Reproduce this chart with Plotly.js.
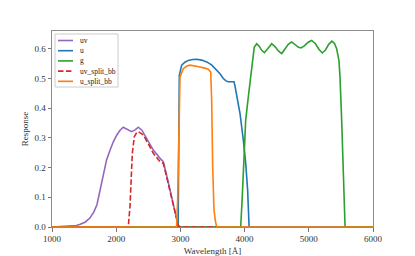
<!DOCTYPE html>
<html>
<head>
<meta charset="utf-8">
<script src="https://cdn.plot.ly/plotly-3.0.1.min.js"></script>
<style>
html,body{margin:0;padding:0;background:#fff;}
#chart{width:415px;height:256px;}
</style>
</head>
<body>
<div id="chart"></div>
<script>
// ---- data ----
const seriesNames = ["uv", "u", "g", "uv_split_bb", "u_split_bb"];

const uvWl   = [1000, 1280, 1380, 1440, 1520, 1590, 1650, 1700, 1775, 1850, 1905, 1955, 2010, 2060, 2110, 2170, 2240, 2300, 2344, 2400, 2480, 2578, 2680, 2734, 2790, 2838, 2880, 2916, 2967, 3000, 4500];
const uvResp = [0, 0.002, 0.005, 0.009, 0.017, 0.03, 0.05, 0.075, 0.148, 0.226, 0.259, 0.287, 0.31, 0.326, 0.336, 0.330, 0.321, 0.328, 0.336, 0.326, 0.295, 0.259, 0.232, 0.22, 0.17, 0.125, 0.085, 0.047, 0.004, 0, 0];

const uWl   = [1000, 2965, 2983, 3020, 3070, 3123, 3190, 3254, 3330, 3410, 3490, 3565, 3620, 3668, 3710, 3746, 3800, 3835, 3850, 3928, 3980, 4017, 4047, 4070, 6000];
const uResp = [0, 0, 0.511, 0.545, 0.555, 0.561, 0.564, 0.565, 0.562, 0.556, 0.545, 0.528, 0.515, 0.50, 0.492, 0.489, 0.488, 0.489, 0.475, 0.383, 0.293, 0.215, 0.125, 0, 0];

const gWl   = [1000, 3939, 3964, 3991, 4017, 4058, 4110, 4150, 4188, 4230, 4266, 4307, 4360, 4422, 4480, 4530, 4578, 4630, 4680, 4733, 4790, 4840, 4879, 4930, 4990, 5045, 5100, 5160, 5210, 5260, 5310, 5360, 5400, 5434, 5470, 5486, 5512, 5540, 5565, 6000];
const gResp = [0, 0, 0.103, 0.27, 0.36, 0.438, 0.539, 0.605, 0.617, 0.608, 0.595, 0.587, 0.600, 0.617, 0.606, 0.592, 0.584, 0.598, 0.615, 0.623, 0.614, 0.605, 0.603, 0.610, 0.622, 0.628, 0.618, 0.598, 0.586, 0.596, 0.615, 0.626, 0.618, 0.600, 0.56, 0.505, 0.36, 0.17, 0, 0];

const uvSplitWl   = [1000, 2188, 2215, 2251, 2282, 2320, 2344, 2422, 2500, 2578, 2682, 2734, 2790, 2838, 2880, 2916, 2967, 3000, 3600];
const uvSplitResp = [0, 0, 0.069, 0.248, 0.304, 0.318, 0.321, 0.31, 0.28, 0.248, 0.22, 0.214, 0.165, 0.12, 0.082, 0.045, 0.004, 0, 0];

const uSplitWl   = [1000, 2940, 2957, 2978, 2994, 3045, 3100, 3150, 3230, 3305, 3380, 3435, 3472, 3487, 3503, 3523, 3545, 3565, 6000];
const uSplitResp = [0, 0, 0.09, 0.371, 0.505, 0.533, 0.542, 0.545, 0.543, 0.539, 0.535, 0.531, 0.522, 0.427, 0.203, 0.058, 0.02, 0, 0];

const xTicks = [1000, 2000, 3000, 4000, 5000, 6000];
const yTicks = [0.0, 0.1, 0.2, 0.3, 0.4, 0.5, 0.6];

// ---- styles ----
const colors = ["#9467bd", "#1f77b4", "#2ca02c", "#d62728", "#ff7f0e"];
const dashes = ["solid", "solid", "solid", "5.5px,2.4px", "solid"];
const xs = [uvWl, uWl, gWl, uvSplitWl, uSplitWl];
const ys = [uvResp, uResp, gResp, uvSplitResp, uSplitResp];

const FONT = "Liberation Serif, DejaVu Serif, serif";

const traces = seriesNames.map((n, i) => ({
  x: xs[i], y: ys[i], name: n, type: "scatter", mode: "lines",
  line: {color: colors[i], width: 1.6, dash: dashes[i]},
  hoverinfo: "skip", showlegend: false
}));

// custom matplotlib-like legend (paper coords)
const L = 52, T = 31, W = 321, H = 196;
const px2x = p => (p - L) / W;
const py2y = p => (T + H - p) / H;
const shapes = [{
  type: "rect", xref: "paper", yref: "paper",
  x0: px2x(55), x1: px2x(118), y0: py2y(87), y1: py2y(34),
  line: {color: "#cccccc", width: 1}, fillcolor: "rgba(255,255,255,0.85)", layer: "above"
}];
const annotations = [];
seriesNames.forEach((n, i) => {
  const yp = 40.5 + i * 10.2;
  shapes.push({
    type: "line", xref: "paper", yref: "paper",
    x0: px2x(58), x1: px2x(73), y0: py2y(yp), y1: py2y(yp),
    line: {color: colors[i], width: 1.6, dash: dashes[i]}, layer: "above"
  });
  annotations.push({
    xref: "paper", yref: "paper", x: px2x(78), y: py2y(yp),
    xanchor: "left", yanchor: "middle", showarrow: false,
    text: n, font: {family: FONT, size: 7.5, color: "#222"}
  });
});

const axisCommon = {
  showgrid: false, zeroline: false, showline: true, mirror: true,
  linecolor: "#8c8c8c", linewidth: 1, ticks: "outside", ticklen: 3.5,
  tickcolor: "#555", tickwidth: 0.8, automargin: false,
  tickfont: {family: FONT, size: 9, color: "#333"}
};

const layout = {
  width: 415, height: 256,
  margin: {l: L, r: 415 - L - W, t: T, b: 256 - T - H},
  paper_bgcolor: "#fff", plot_bgcolor: "#fff",
  showlegend: false,
  xaxis: Object.assign({}, axisCommon, {
    range: [1000, 6000], tickvals: xTicks, ticktext: xTicks.map(String),
    title: {text: "Wavelength [Å]", font: {family: FONT, size: 9, color: "#333"}, standoff: 4}
  }),
  yaxis: Object.assign({}, axisCommon, {
    range: [0, 0.66], tickvals: yTicks, ticktext: yTicks.map(v => v.toFixed(1)),
    title: {text: "Response", font: {family: FONT, size: 9, color: "#333"}, standoff: 4}
  }),
  shapes: shapes, annotations: annotations
};

Plotly.newPlot("chart", traces, layout, {staticPlot: true, displayModeBar: false});
</script>
</body>
</html>
